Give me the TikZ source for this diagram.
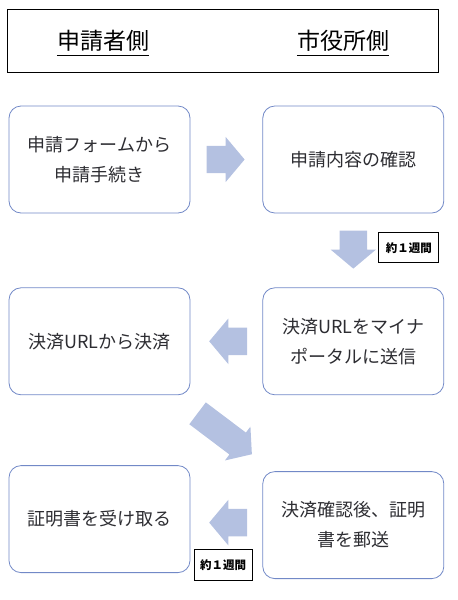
\documentclass[tikz,border=0pt]{standalone}
\usepackage{fontspec}
\setmainfont{Noto Sans CJK JP}
\usetikzlibrary{positioning,shapes.arrows}
\definecolor{arrowfill}{RGB}{180,193,225}
\definecolor{boxline}{RGB}{114,137,199}
\definecolor{boxtext}{RGB}{45,45,50}
\tikzset{block/.style = {rectangle, draw=boxline, thick, rounded corners=12pt, minimum width=181pt,
		minimum height=107pt, text centered, align=center, text=boxtext, font=\fontsize{18}{30}\selectfont},
	bigarrow/.style = {single arrow, fill=arrowfill, draw=none, inner xsep=0pt, inner ysep=13.5pt,
		minimum height=38pt, single arrow head extend=9pt, single arrow tip angle=100, anchor=tail},
	label/.style    = {draw, thick, inner sep=0pt, minimum width=60pt, minimum height=30pt,
		font=\bfseries\fontsize{11.5}{11.5}\selectfont},
	title/.style    = {inner xsep=0pt, inner ysep=3pt, font=\fontsize{23}{23}\selectfont}
}

\begin{document}
\begin{tikzpicture}[x=1pt, y=1pt, node distance = 72pt]
	\useasboundingbox (0,0) rectangle (458,-600);
	%% header
	\node [draw, thick, minimum width=431pt, minimum height=63pt] (head) at (222.5,-40.5) {};
	\node [title] (t1) at (103,-41) {申請者側};
	\node [title] (t2) at (343,-41) {市役所側};
	\draw (t1.south west) -- (t1.south east);
	\draw (t2.south west) -- (t2.south east);
	%% the six steps
	\node [block] (st1) at (99.5,-159.5) {申請フォームから\\申請手続き};
	\node [block, right=72pt of st1] (st2) {申請内容の確認};
	\node [block, below=74pt of st1] (st3) {決済URLから決済};
	\node [block, below=74pt of st2] (st4) {決済URLをマイナ\\ポータルに送信};
	\node [block, below=70pt of st3] (st5) {証明書を受け取る};
	\node [block, below=76pt of st4] (st6) {決済確認後、証明\\書を郵送};
	%% block arrows between the steps, placed by their tails
	\node [bigarrow] (ar1) at ([xshift=16pt]st1.east) {};
	\node [bigarrow, rotate=-90] (ar2) at ([yshift=-17pt]st2.south) {};
	\node [bigarrow, rotate=180] (ar3) at ([xshift=-15pt]st4.west) {};
	\node [bigarrow, rotate=-37, minimum height=68pt, single arrow head extend=7.5pt]
		(ar4) at ([shift={(7pt,-18pt)}]st3.south east) {};
	\node [bigarrow, rotate=180] (ar5) at ([shift={(-15pt,2.5pt)}]st6.west) {};
	%% time notes
	\node [label, anchor=north east] (wk1) at ([shift={(-5pt,-19pt)}]st2.south east) {約１週間};
	\node [label, anchor=south east, minimum width=58pt, minimum height=31pt] (wk2)
		at ([shift={(-10pt,-2pt)}]st6.south west) {約１週間};
\end{tikzpicture}
\end{document}
